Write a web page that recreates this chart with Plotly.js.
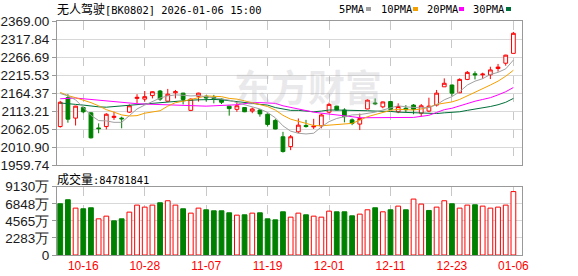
<!DOCTYPE html>
<html><head><meta charset="utf-8">
<script src="https://cdn.plot.ly/plotly-3.0.1.min.js"></script>
<style>html,body{margin:0;padding:0;background:#fff}#chart{width:578px;height:276px}</style>
</head><body><div id="chart"></div>
<script>
// ---- data ----
const dates = ['10-13','10-14','10-15','10-16','10-17','10-20','10-21','10-22','10-23','10-24','10-27','10-28','10-29','10-30','10-31',
 '11-03','11-04','11-05','11-06','11-07','11-10','11-11','11-12','11-13','11-14','11-17','11-18','11-19','11-20','11-21','11-24','11-25','11-26','11-27','11-28',
 '12-01','12-02','12-03','12-04','12-05','12-08','12-09','12-10','12-11','12-12','12-15','12-16','12-17','12-18','12-19','12-22','12-23','12-24','12-25','12-26','12-29','12-30','12-31',
 '01-05','01-06'];
const open  = [2069,2151,2093,2123,2108,2065,2069,2095,2093,2110, 2149,2147,2157,2170,2141,2165,2164,2115,2155,2155, 2152,2147,2127,2118,2123,2113,2116,2104,2086,2040, 2012,2054,2072,2068,2071,2110,2127,2116,2088,2076, 2119,2136,2125,2140,2111,2121,2130,2107,2113,2130, 2182,2187,2165,2203,2219,2216,2216,2234,2249,2277];
const high  = [2142,2161,2128,2126,2110,2078,2107,2111,2097,2132, 2161,2170,2169,2173,2176,2173,2165,2149,2165,2158, 2159,2149,2128,2140,2124,2123,2119,2106,2091,2054, 2045,2092,2088,2091,2106,2137,2128,2121,2092,2106, 2146,2149,2140,2141,2135,2130,2133,2133,2151,2173, 2206,2189,2206,2227,2226,2222,2239,2247,2273,2338];
const low   = [2066,2080,2072,2107,2035,2050,2061,2088,2064,2108, 2135,2140,2149,2142,2142,2149,2132,2113,2140,2140, 2135,2133,2100,2111,2110,2107,2097,2069,2061,1995, 2002,2050,2066,2062,2064,2107,2115,2081,2073,2059, 2118,2130,2121,2117,2107,2110,2104,2097,2110,2126, 2182,2156,2164,2201,2203,2205,2204,2225,2242,2277];
const close = [2138,2090,2127,2111,2037,2063,2104,2098,2091,2128, 2152,2154,2168,2147,2161,2168,2146,2147,2164,2150, 2149,2138,2120,2128,2111,2119,2105,2075,2062,1998, 2040,2073,2069,2070,2102,2132,2116,2097,2078,2092, 2144,2134,2139,2118,2126,2117,2118,2128,2127,2164, 2192,2164,2203,2223,2216,2218,2230,2238,2272,2334];
const prevClose = 2150;
const volumeWan = [6850,7387,6268,6178,6312,4835,5193,4566,4835,5730, 6670,6402,6670,6984,7252,6670,6178,5596,6268,6044, 5909,5909,5641,5327,5372,5596,5641,4835,4700,5775, 5059,5596,5372,5193,5059,5864,5775,5775,5238,5462, 6044,6312,5775,6044,6536,6044,7476,6805,5954,6402, 7252,6849,6268,6670,6715,6536,6268,6402,6670,8478.1841];
const ma5  = [2163,2156,2145,2122,2101,2086,2085,2081,2081,2100, 2119,2130,2141,2150,2156,2159,2158,2156,2157,2154, 2151,2149,2144,2137,2130,2125,2119,2109,2094,2071, 2056,2050,2048,2050,2068,2083,2092,2097,2102,2103, 2106,2110,2116,2122,2128,2125,2123,2122,2123,2131, 2145,2154,2168,2187,2198,2205,2217,2223,2233,2258];
const ma10 = [2166,2157,2151,2145,2137,2128,2117,2110,2102,2099, 2100,2107,2111,2114,2127,2137,2141,2146,2153,2156, 2155,2154,2149,2147,2142,2137,2133,2126,2116,2101, 2090,2083,2078,2072,2071,2073,2074,2076,2078,2087, 2097,2103,2110,2115,2118,2116,2116,2119,2124,2132, 2136,2139,2146,2156,2165,2175,2187,2198,2212,2229];
const ma20 = [2148,2150,2150,2148,2146,2143,2141,2139,2136,2134, 2134,2133,2132,2131,2130,2129,2128,2128,2128,2127, 2128,2130,2130,2131,2134,2137,2137,2136,2135,2128, 2123,2119,2114,2110,2107,2105,2103,2101,2097,2094, 2094,2093,2094,2094,2095,2094,2095,2098,2101,2109, 2117,2121,2128,2136,2141,2146,2151,2159,2168,2180];
const ma30 = [2136,2135,2132,2130,2127,2125,2124,2126,2128,2130, 2132,2134,2136,2138,2140,2141,2143,2144,2145,2146, 2146,2145,2143,2140,2137,2135,2132,2130,2123,2118, 2115,2115,2113,2111,2113,2116,2116,2116,2116,2114, 2114,2113,2113,2112,2110,2109,2108,2107,2106,2106, 2108,2109,2111,2115,2118,2121,2126,2131,2138,2149];
const tickLabels = ['10-16','10-28','11-07','11-19','12-01','12-11','12-23','01-06'];
const priceTickText = ['1959.74','2010.90','2062.05','2113.21','2164.37','2215.53','2266.69','2317.84','2369.00'];
const volTickVals = [0,2282.5,4565,6847.5,9130];
const volTickText = ['0','2283万','4565万','6848万','9130万'];
const maNames = ['5PMA','10PMA','20PMA','30PMA'];
const titleText = '无人驾驶[BK0802] 2026-01-06 15:00';
const volLabel = '成交量:84781841';

// ---- build ----
const idx = dates.map((d,i)=>i);
const RED='#ff0000', GREEN='#008000';
const maColors = ['#a0a0a0','#f4a000','#ff00ff','#00703a'];
const up = close.map((c,i)=> c >= (i===0?prevClose:close[i-1]));
const tickvals = tickLabels.map(t=>dates.indexOf(t));
const priceTickVals = priceTickText.map(Number);

const L=57, R=522, T=21, B=255, H=B-T;
const px = x => (x-L)/(R-L);
const py = y => (B-y)/H;

const traces = [
  {type:'candlestick', x:idx, open:open, high:high, low:low, close:close, xaxis:'x', yaxis:'y',
   increasing:{line:{color:RED,width:1}, fillcolor:'#ffffff'},
   decreasing:{line:{color:GREEN,width:1}, fillcolor:GREEN},
   whiskerwidth:0, hoverinfo:'skip', showlegend:false},
];
[ma30,ma20,ma10,ma5].forEach((m,k)=>{
  const c = maColors[3-k];
  traces.push({type:'scatter', mode:'lines', x:idx, y:m, xaxis:'x', yaxis:'y',
    line:{color:c,width:1}, hoverinfo:'skip', showlegend:false});
});
traces.push({type:'bar', x:idx, y:volumeWan, xaxis:'x2', yaxis:'y2', width:0.62,
  marker:{color:up.map(u=>u?'#ffffff':GREEN), line:{color:up.map(u=>u?RED:GREEN), width:1}},
  hoverinfo:'skip', showlegend:false});

const tfont = {family:'Liberation Sans, Arial, sans-serif', size:13.5, color:'#1a1a1a'};
const common = {showline:true, mirror:true, linecolor:'#999', linewidth:1, zeroline:false};
const layout = {
  width:578, height:276, margin:{l:L, r:578-R, t:T, b:276-B, pad:0},
  paper_bgcolor:'#fff', plot_bgcolor:'#fff', showlegend:false, bargap:0,
  xaxis:Object.assign({domain:[0,1], anchor:'y', range:[-0.42,60.12], tickvals:tickvals, showticklabels:false,
    ticks:'', showgrid:true, gridcolor:'#c8c8c8', griddash:'dash', rangeslider:{visible:false}}, common),
  yaxis:Object.assign({domain:[py(165),1], anchor:'x', range:[1959.74,2369], tickvals:priceTickVals, ticktext:priceTickText,
    ticks:'outside', ticklen:4, tickcolor:'#999', showgrid:true, gridcolor:'#d8d8d8', tickfont:tfont}, common),
  xaxis2:Object.assign({domain:[0,1], anchor:'y2', matches:'x', range:[-0.42,60.12], tickvals:tickvals, ticktext:tickLabels,
    ticks:'', showgrid:true, gridcolor:'#c8c8c8', griddash:'dash',
    tickfont:{family:'Liberation Sans, Arial, sans-serif', size:12, color:RED}}, common),
  yaxis2:Object.assign({domain:[0,py(186.7)], anchor:'x2', range:[0,9130], tickvals:volTickVals, ticktext:volTickText,
    ticks:'outside', ticklen:4, tickcolor:'#999', showgrid:true, gridcolor:'#d8d8d8', tickfont:tfont}, common),
  annotations:[], shapes:[]
};
const monoFont = {family:'DejaVu Sans Mono, Noto Sans CJK SC, monospace', size:10.4, color:'#000'};
function cjkWrap(s){ return s.replace(/([\u4e00-\u9fff]+)/g,'<span style="font-family:Noto Sans CJK SC;font-size:12px">$1</span>'); }
layout.annotations.push({xref:'paper', yref:'paper', x:px(55), y:py(8.5), xanchor:'left', yanchor:'middle',
  text:cjkWrap(titleText), showarrow:false, font:monoFont});
layout.annotations.push({xref:'paper', yref:'paper', x:px(55), y:py(178), xanchor:'left', yanchor:'middle',
  text:cjkWrap(volLabel), showarrow:false, font:monoFont});
const legX = [337,379,425,471], markX = [366,413,459,506];
maNames.forEach((n,k)=>{
  layout.annotations.push({xref:'paper', yref:'paper', x:px(legX[k]), y:py(9), xanchor:'left', yanchor:'middle',
    text:n, showarrow:false, font:monoFont});
  layout.shapes.push({type:'rect', xref:'paper', yref:'paper', x0:px(markX[k]), x1:px(markX[k]+5), y0:py(11), y1:py(7),
    fillcolor:maColors[k], line:{width:0}});
});
layout.annotations.push({xref:'paper', yref:'paper', x:px(308), y:py(86), xanchor:'center', yanchor:'middle',
  text:'<b>东方财富</b>', showarrow:false, font:{family:'Noto Sans CJK SC', size:37, color:'rgba(170,170,175,0.25)'}});

Plotly.newPlot('chart', traces, layout, {staticPlot:true, displayModeBar:false});
</script></body></html>
